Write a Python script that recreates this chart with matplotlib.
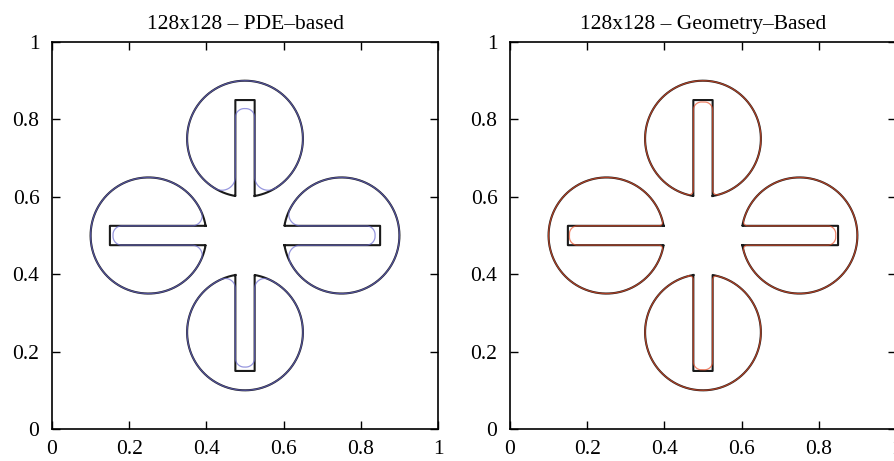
import numpy as np
import matplotlib.pyplot as plt

# four slotted disks (Zalesak-type), slots opening towards the domain centre
centers_x = [0.5, 0.25, 0.75, 0.5]
centers_y = [0.75, 0.5, 0.5, 0.25]
slot_dir = ['down', 'right', 'left', 'up']
radius = 0.15
slot_width = 0.05
slot_top = 0.10     # closed end of the slot, measured from the disk centre

titles = ['128x128 \u2013 PDE\u2013based', '128x128 \u2013 Geometry\u2013Based']
line_colors = ['#6a6ad0', '#e8502a']

# reconstructed interface per disk: mouth fillet radius, pull-back of the slot end
pde_fillet = [0.035, 0.026, 0.030, 0.026]
pde_recess = [0.022, 0.008, 0.013, 0.010]
geo_fillet = [0.012, 0.010, 0.011, 0.010]
geo_recess = [0.005, 0.004, 0.006, 0.003]
end_round = [0.023, 0.021]

ticks = [0, 0.2, 0.4, 0.6, 0.8, 1]
tick_labels = ['0', '0.2', '0.4', '0.6', '0.8', '1']

plt.rcParams['font.family'] = 'Liberation Serif'
plt.rcParams['font.size'] = 15.5


def to_global(x, y, cx, cy, d):
    # local frame has the slot opening towards -y
    if d == 'up':
        x, y = -x, -y
    elif d == 'right':
        x, y = -y, x
    elif d == 'left':
        x, y = y, -x
    return cx + x, cy + y


def arc(xc, yc, r, a0, a1, n=80):
    t = np.linspace(a0, a1, n)
    return xc + r * np.cos(t), yc + r * np.sin(t)


def exact_outline():
    hw = slot_width / 2
    y_mouth = -np.sqrt(radius**2 - hw**2)
    a0 = np.arctan2(y_mouth, hw)
    a1 = np.arctan2(y_mouth, -hw) + 2 * np.pi
    x, y = arc(0, 0, radius, a0, a1, 400)
    x = np.concatenate([x, [-hw, -hw, hw, hw, x[0]]])
    y = np.concatenate([y, [y_mouth, slot_top, slot_top, y_mouth, y[0]]])
    return x, y


def smooth_outline(rf, recess, rc):
    hw = slot_width / 2
    # fillet circle tangent to the slot wall and to the disk rim
    fx = hw + rf
    fy = -np.sqrt((radius - rf)**2 - fx**2)
    th = np.arctan2(fy, fx)
    top = slot_top - recess
    parts = [
        arc(0, 0, radius, th, np.pi - th, 400),                 # rim
        arc(-fx, fy, rf, np.pi - th, 2 * np.pi),                # left fillet
        (np.array([-hw, -hw]), np.array([fy, top - rc])),       # left wall
        arc(-hw + rc, top - rc, rc, np.pi, np.pi / 2),          # slot end
        arc(hw - rc, top - rc, rc, np.pi / 2, 0),
        (np.array([hw, hw]), np.array([top - rc, fy])),         # right wall
        arc(fx, fy, rf, np.pi, 2 * np.pi + th),                 # right fillet
    ]
    x = np.concatenate([p[0] for p in parts])
    y = np.concatenate([p[1] for p in parts])
    return x, y


fig = plt.figure(figsize=(8.95, 4.61), dpi=100)
axes = [fig.add_axes([0.0581, 0.0694, 0.4313, 0.8395]),
        fig.add_axes([0.5698, 0.0694, 0.4313, 0.8395])]
fillets = [pde_fillet, geo_fillet]
recesses = [pde_recess, geo_recess]

ex, ey = exact_outline()
for k, ax in enumerate(axes):
    for i, (cx, cy, d) in enumerate(zip(centers_x, centers_y, slot_dir)):
        gx, gy = to_global(ex, ey, cx, cy, d)
        ax.plot(gx, gy, color='#1a1a1a', lw=1.5)
        sx, sy = smooth_outline(fillets[k][i], recesses[k][i], end_round[k])
        gx, gy = to_global(sx, sy, cx, cy, d)
        ax.plot(gx, gy, color=line_colors[k], lw=0.9, alpha=0.7)

    ax.set_xlim(0, 1)
    ax.set_ylim(0, 1)
    ax.set_xticks(ticks)
    ax.set_xticklabels(tick_labels)
    ax.set_yticks(ticks)
    ax.set_yticklabels(tick_labels)
    ax.tick_params(direction='in', length=5.5, width=1.0, top=True, right=True, pad=9)
    ax.tick_params(axis='x', pad=8)
    for sp in ax.spines.values():
        sp.set_linewidth(1.2)
    ax.set_title(titles[k], fontsize=15.5, pad=9)

fig.savefig('out.png', dpi=100)
